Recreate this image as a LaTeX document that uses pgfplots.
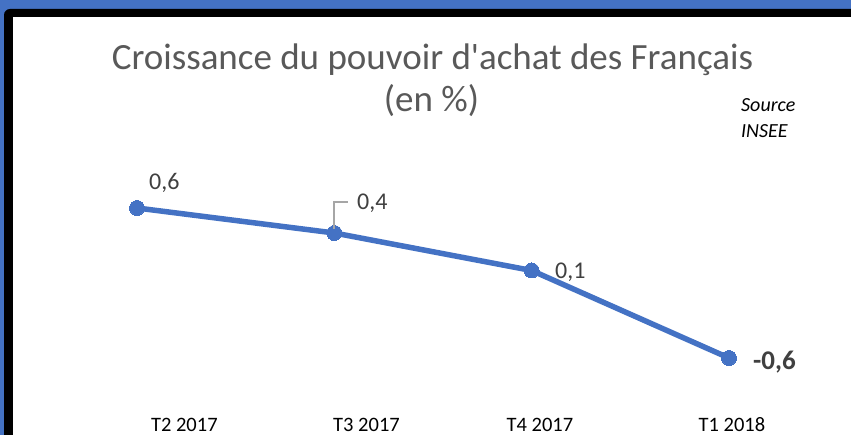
\documentclass[border=0pt]{standalone}
\usepackage{pgfplots}
\pgfplotsset{compat=1.18}
\usepackage{fontspec}
\setmainfont{Carlito}[Ligatures=TeXOff]
\definecolor{bleu}{HTML}{4472C4}
\definecolor{titre}{HTML}{595959}
\definecolor{etiq}{HTML}{404040}
\definecolor{trait}{HTML}{A6A6A6}
\begin{document}
\begin{tikzpicture}[x=1pt,y=1pt]
\useasboundingbox (0,0) rectangle (851,-435);
\fill[bleu] (0,0) rectangle (851,-435);
\fill[black,rounded corners=6pt] (4,-9) rectangle (870,-460);
\fill[white] (13,-17) rectangle (851,-435);
\node[anchor=base,text=titre,font=\fontsize{37}{44}\selectfont,inner sep=0pt] at (432.5,-70) {Croissance du pouvoir d\textquotesingle achat des Français};
\node[anchor=base,text=titre,font=\fontsize{37}{44}\selectfont,inner sep=0pt] at (431.5,-112) {(en \%)};
\node[anchor=base west,font=\fontsize{20}{24}\selectfont\itshape,inner sep=0pt] at (741,-112) {Source};
\node[anchor=base west,font=\fontsize{20}{24}\selectfont\itshape,inner sep=0pt] at (741,-138) {INSEE};
\begin{axis}[
  at={(137pt,-358pt)}, anchor=south west,
  scale only axis, width=611.73pt, height=150pt,
  xmin=0, xmax=3.1, ymin=-0.6, ymax=0.6,
  clip=false,
  axis line style={draw=none},
  ytick=\empty,
  xtick={0.24,1.163,2.042,3.015},
  xticklabels={T2 2017,T3 2017,T4 2017,T1 2018},
  major tick length=0pt,
  xticklabel style={anchor=base,yshift=-73pt,font=\fontsize{20.5}{24}\selectfont,inner sep=0pt},
]
\addplot[color=bleu,line width=5.5pt,mark=*,mark size=7.5pt,mark options={solid,fill=bleu,draw=bleu,line width=0pt}] coordinates {(0,0.6) (1,0.4) (2,0.1) (3,-0.6)};
\end{axis}
\draw[trait,line width=1.2pt] (334,-229) -- (334,-202) -- (348,-202);
\node[anchor=base west,text=etiq,font=\fontsize{24}{28}\selectfont,inner sep=0pt] at (149,-190) {0,6};
\node[anchor=base west,text=etiq,font=\fontsize{24}{28}\selectfont,inner sep=0pt] at (357,-210) {0,4};
\node[anchor=base west,text=etiq,font=\fontsize{24}{28}\selectfont,inner sep=0pt] at (555,-279) {0,1};
\node[anchor=base west,text=etiq,font=\fontsize{27}{32}\selectfont\bfseries,inner sep=0pt] at (753,-370) {-0,6};
\end{tikzpicture}
\end{document}
